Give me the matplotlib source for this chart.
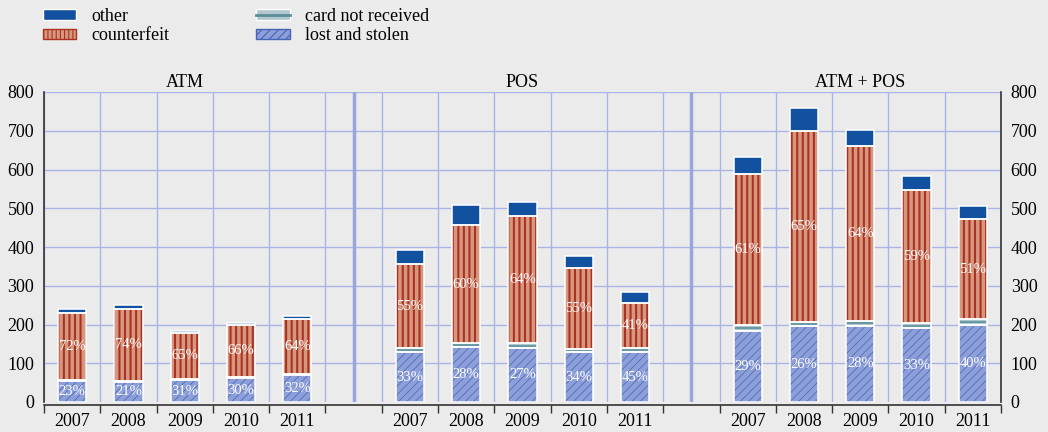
import numpy as np
import matplotlib.pyplot as plt
import matplotlib.patches as mpatches
from matplotlib.lines import Line2D
import matplotlib.transforms as mtransforms

plt.rcParams['font.family'] = ['Liberation Serif', 'DejaVu Serif']

# data ########################################################################
years = ['2007', '2008', '2009', '2010', '2011']
groups = ['ATM', 'POS', 'ATM + POS']

atm_lost = [55, 52, 56, 61, 70]
atm_card = [2, 3, 4, 4, 2]
atm_cf = [173, 186, 119, 135, 141]
atm_other = [10, 9, 3, 5, 8]
atm_lost_pct = ['23%', '21%', '31%', '30%', '32%']
atm_cf_pct = ['72%', '74%', '65%', '66%', '64%']

pos_lost = [129, 142, 140, 128, 128]
pos_card = [11, 10, 11, 10, 11]
pos_cf = [215, 305, 330, 207, 117]
pos_other = [36, 51, 36, 32, 29]
pos_lost_pct = ['33%', '28%', '27%', '34%', '45%']
pos_cf_pct = ['55%', '60%', '64%', '55%', '41%']

all_lost = [184, 195, 197, 190, 200]
all_card = [14, 12, 12, 14, 14]
all_cf = [390, 493, 451, 344, 258]
all_other = [44, 60, 42, 36, 35]
all_lost_pct = ['29%', '26%', '28%', '33%', '40%']
all_cf_pct = ['61%', '65%', '64%', '59%', '51%']

# styles ######################################################################
bg = '#ebebeb'
grid_col = '#a9b3e6'
c_other = '#1250a0'
c_cf, c_cf_hatch = '#d6977f', '#ab3223'
c_card, c_card_line = '#b0c7cf', '#5b9099'
c_lost, c_lost_hatch = '#8d9fd8', '#4763b5'

plt.rcParams['hatch.linewidth'] = 0.8

fig = plt.figure(figsize=(10.48, 4.32), dpi=100, facecolor=bg)
ax = fig.add_axes([44 / 1048, 30 / 432, 957 / 1048, 310 / 432])
ax.set_facecolor(bg)

width = 0.5


def hatched_bar(x, h, bottom, face, hatch=None, hatch_col=None, hatch_lw=0.8):
    ax.bar(x, h, width, bottom=bottom, color=face, linewidth=0, zorder=3)
    if hatch:
        bars = ax.bar(x, h, width, bottom=bottom, fill=False, hatch=hatch,
                      edgecolor=hatch_col, linewidth=0, zorder=4)
        for b in bars:
            if hasattr(b, 'set_hatch_linewidth'):
                b.set_hatch_linewidth(hatch_lw)
    ax.bar(x, h, width, bottom=bottom, fill=False, edgecolor='white',
           linewidth=1.1, zorder=5)


data = [
    (atm_lost, atm_card, atm_cf, atm_other, atm_lost_pct, atm_cf_pct),
    (pos_lost, pos_card, pos_cf, pos_other, pos_lost_pct, pos_cf_pct),
    (all_lost, all_card, all_cf, all_other, all_lost_pct, all_cf_pct),
]

xticks_all = []
for g, (lost, card, cf, other, lost_pct, cf_pct) in enumerate(data):
    x = np.arange(len(years)) + 6 * g + 0.5
    xticks_all.extend(x)
    lost = np.array(lost)
    card = np.array(card)
    cf = np.array(cf)
    other = np.array(other)

    hatched_bar(x, lost, 0, c_lost, '////', c_lost_hatch, 0.5)
    hatched_bar(x, card, lost, c_card)
    # thin teal line through the "card not received" slice (only where visible)
    big = card >= 8
    ax.hlines((lost + card / 2)[big], (x - width / 2)[big], (x + width / 2)[big],
              color=c_card_line, lw=1.2, zorder=4)
    hatched_bar(x, cf, lost + card, c_cf, '|||', c_cf_hatch, 1.5)
    hatched_bar(x, other, lost + card + cf, c_other)

    for xi, l, c, b, lp, cp in zip(x, lost, cf, lost + card, lost_pct, cf_pct):
        ax.text(xi, l / 2, lp, color='white', ha='center', va='center',
                fontsize=10.5, zorder=6)
        ax.text(xi, b + c / 2, cp, color='white', ha='center', va='center',
                fontsize=10.5, zorder=6)

    trans = mtransforms.blended_transform_factory(ax.transData, ax.transAxes)
    ax.text(6 * g + 2.5, 1.016, groups[g], transform=trans, ha='center',
            va='baseline', fontsize=13)

# grid / axes #################################################################
ax.set_xlim(0, 17)
ax.set_ylim(0, 800)
ax.set_yticks(np.arange(0, 801, 100))
for yv in np.arange(100, 801, 100):
    ax.axhline(yv, color=grid_col, lw=1, zorder=1)
for xv in range(0, 18):
    ax.axvline(xv, color=grid_col, lw=1, zorder=1)
for xv in [5.5, 11.5]:
    ax.axvline(xv, color='#9aa5df', lw=2.5, zorder=1)

ax.set_xticks(range(0, 18))
ax.set_xticklabels([])
ax.set_xticks(xticks_all, minor=True)
ax.set_xticklabels(years * 3, minor=True)
ax.tick_params(axis='x', which='major', direction='out', length=6,
               color='#333333', width=1)
ax.tick_params(axis='x', which='minor', length=0, pad=6, labelsize=13)
ax.tick_params(axis='y', which='both', length=0, labelsize=13, pad=7,
               left=True, right=True, labelleft=True, labelright=True)

ax.spines['top'].set_visible(False)
ax.spines['bottom'].set_position(('outward', 2))
for s in ['left', 'right', 'bottom']:
    ax.spines[s].set_color('#333333')
    ax.spines[s].set_linewidth(1.2)

# legend ######################################################################
h_other = mpatches.Patch(facecolor=c_other, edgecolor='white', lw=1)
h_cf = mpatches.Patch(facecolor=c_cf, edgecolor='white', lw=1, hatch='||||')
h_card = (mpatches.Patch(facecolor=c_card, edgecolor='white', lw=1),
          Line2D([0], [0], color=c_card_line, lw=2))
h_lost = mpatches.Patch(facecolor=c_lost, edgecolor='white', lw=1, hatch='////')
leg = fig.legend([h_other, h_cf, h_card, h_lost],
                 ['other', 'counterfeit', 'card not received', 'lost and stolen'],
                 loc='upper left', bbox_to_anchor=(0.041, 0.982), ncol=2,
                 frameon=False, fontsize=13, handlelength=1.85, handleheight=0.5,
                 handletextpad=0.85, columnspacing=4.8, labelspacing=0.15,
                 borderpad=0, borderaxespad=0)
for p in leg.get_patches():
    if p.get_hatch() == '||||':
        p.set_edgecolor(c_cf_hatch)
    elif p.get_hatch() == '////':
        p.set_edgecolor(c_lost_hatch)

fig.savefig('out.png', dpi=100, facecolor=bg)
